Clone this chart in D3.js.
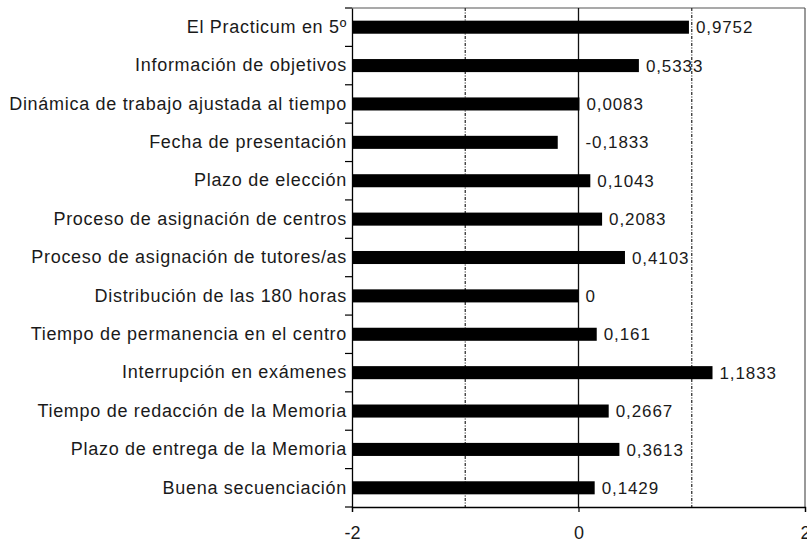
<!DOCTYPE html>
<html><head><meta charset="utf-8">
<script src="https://cdn.jsdelivr.net/npm/d3@7"></script>
<style>body{margin:0;background:#fff}svg{display:block}text{font-family:"Liberation Sans",Arial,sans-serif;fill:#1a1a1a}</style>
</head><body><svg id="c" width="807" height="545"></svg>
<script>
const categories = ["El Practicum en 5º","Información de objetivos","Dinámica de trabajo ajustada al tiempo","Fecha de presentación","Plazo de elección","Proceso de asignación de centros","Proceso de asignación de tutores/as","Distribución de las 180 horas","Tiempo de permanencia en el centro","Interrupción en exámenes","Tiempo de redacción de la Memoria","Plazo de entrega de la Memoria","Buena secuenciación"];
const values = [0.9752,0.5333,0.0083,-0.1833,0.1043,0.2083,0.4103,0,0.161,1.1833,0.2667,0.3613,0.1429];
const valueLabels = ["0,9752","0,5333","0,0083","-0,1833","0,1043","0,2083","0,4103","0","0,161","1,1833","0,2667","0,3613","0,1429"];
const xTicks = [-2,0,2];
const xTickLabels = ["-2","0","2"];
const gridVals = [-1,1];

const svg = d3.select("#c");
const L=352,R=805,T=8,B=507;
const x = d3.scaleLinear().domain([-2,2]).range([L,R]);
const y = d3.scaleBand().domain(categories).range([T,B]).paddingInner(0.66).paddingOuter(0.33);
const band = (B-T)/categories.length;
const FF='"Liberation Sans",Arial,sans-serif';

// frame top/right
svg.append("line").attr("x1",L).attr("x2",R).attr("y1",T).attr("y2",T).attr("stroke","#555").attr("stroke-width",1.2);
svg.append("line").attr("x1",R).attr("x2",R).attr("y1",T).attr("y2",B).attr("stroke","#555").attr("stroke-width",1.2);

// grid
svg.selectAll(".g").data(gridVals).enter().append("line")
 .attr("x1",d=>x(d)).attr("x2",d=>x(d)).attr("y1",T).attr("y2",B)
 .attr("stroke","#333").attr("stroke-width",1.3).attr("stroke-dasharray","3,1.5,1,1.5");
svg.append("line").attr("x1",x(0)).attr("x2",x(0)).attr("y1",T).attr("y2",B).attr("stroke","#111").attr("stroke-width",1.3);

// bars from axis min
svg.selectAll(".bar").data(values).enter().append("rect")
 .attr("x",x(-2)).attr("y",(d,i)=>y(categories[i]))
 .attr("width",d=>x(d)-x(-2)).attr("height",y.bandwidth()).attr("fill","#000");

// value labels
svg.selectAll(".vl").data(values).enter().append("text")
 .attr("x",d=>x(Math.max(d,0))+7).attr("y",(d,i)=>y(categories[i])+y.bandwidth()/2)
 .attr("dy","0.36em").attr("font-size",17).attr("letter-spacing","0.9px")
 .text((d,i)=>valueLabels[i]);

// y axis
const yAxis = d3.axisLeft(y).tickSize(0).tickPadding(5);
const ga = svg.append("g").attr("transform",`translate(${L},0)`).call(yAxis);
ga.select(".domain").attr("stroke","#000").attr("stroke-width",1.3);
ga.selectAll("text").attr("font-size",18).attr("letter-spacing","0.7px").attr("fill","#1a1a1a").style("font-family",FF);
// y ticks at band boundaries
const bounds = d3.range(categories.length+1).map(i=>T+i*band);
svg.selectAll(".yt").data(bounds).enter().append("line")
 .attr("x1",L-7).attr("x2",L).attr("y1",d=>d).attr("y2",d=>d).attr("stroke","#000").attr("stroke-width",1.2);

// x axis
const xAxis = d3.axisBottom(x).tickValues(xTicks).tickSize(5).tickPadding(14).tickFormat((d,i)=>xTickLabels[i]);
const gx = svg.append("g").attr("transform",`translate(0,${B})`).call(xAxis);
gx.select(".domain").attr("stroke","#000").attr("stroke-width",1.3);
gx.selectAll("line").attr("stroke","#000").attr("stroke-width",1.2);
gx.selectAll("text").attr("font-size",18).attr("fill","#1a1a1a").style("font-family",FF);
</script></body></html>
